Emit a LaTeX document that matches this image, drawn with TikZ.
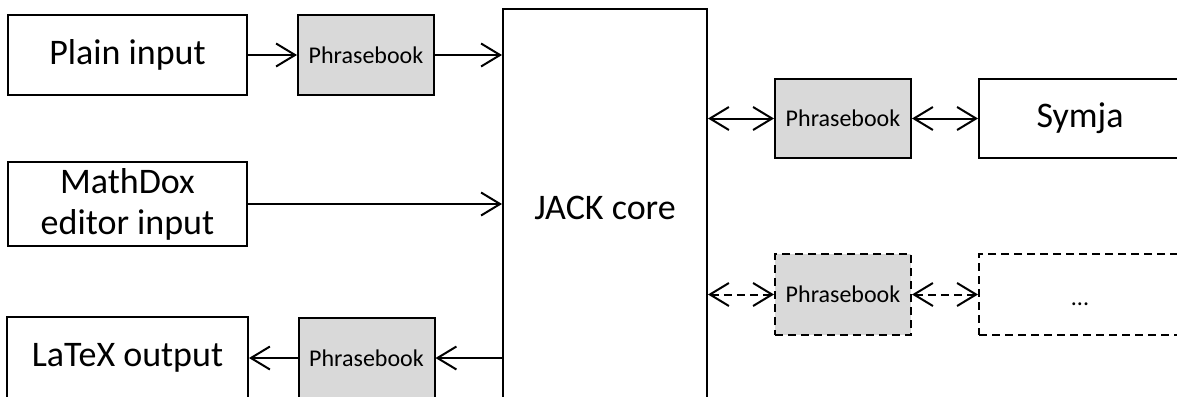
\documentclass[tikz,border=0pt]{standalone}
\usepackage{fontspec}
\setmainfont{Carlito}
\usetikzlibrary{arrows.meta}
\tikzset{
  box/.style={draw, line width=2pt, inner sep=0pt, align=center, font=\fontsize{36}{42}\selectfont},
  pbook/.style={draw, line width=2pt, fill=black!15, inner sep=0pt, minimum width=136pt, minimum height=80pt, font=\fontsize{24}{28}\selectfont},
  dashedbox/.style={dash pattern=on 8pt off 5pt},
  conn/.style={line width=2pt, -{Straight Barb[length=19pt,width=23pt,line width=2pt]}},
  biconn/.style={line width=2pt, {Straight Barb[length=19pt,width=23pt,line width=2pt]}-{Straight Barb[length=19pt,width=23pt,line width=2pt]}},
}
\begin{document}
\begin{tikzpicture}[x=1pt,y=-1pt]
\clip (0,0) rectangle (1177,396);
\fill[white] (0,0) rectangle (1177,396);
\node[box, minimum width=239pt, minimum height=80pt] (plain) at (127.5,55) {Plain input};
\node[pbook] (pb1) at (366,55) {Phrasebook};
\node[box, minimum width=204pt, minimum height=396pt] (jack) at (605,207.5) {JACK core};
\node[box, minimum width=239pt, minimum height=84pt, font=\fontsize{36}{41}\selectfont] (mathdox) at (127.5,204) {MathDox\\editor input};
\node[box, minimum width=241pt, minimum height=82pt] (latex) at (127.5,358) {LaTeX output};
\node[pbook] (pb3) at (366.5,358) {Phrasebook};
\node[pbook, minimum height=79pt] (pb2) at (843,118.5) {Phrasebook};
\node[box, minimum width=202pt, minimum height=79pt] (symja) at (1080,118.5) {Symja};
\node[pbook, dashedbox, minimum height=81pt] (pb4) at (843,294.5) {Phrasebook};
\node[box, dashedbox, minimum width=202pt, minimum height=81pt, font=\fontsize{24}{28}\selectfont, text height=21pt, text depth=0pt] (dots) at (1080,294.5) {...};

\draw[conn] (plain.east) -- (pb1.west);
\draw[conn] (pb1.east) -- (pb1.east -| jack.west);
\draw[conn] (mathdox.east) -- (mathdox.east -| jack.west);
\draw[conn] (pb3.east -| jack.west) -- (pb3.east);
\draw[conn] (pb3.west) -- (latex.east);
\draw[biconn] (pb2.west -| jack.east) -- (pb2.west);
\draw[biconn] (pb2.east) -- (symja.west);
\draw[biconn, dashedbox] (pb4.west -| jack.east) -- (pb4.west);
\draw[biconn, dashedbox] (pb4.east) -- (dots.west);
\end{tikzpicture}
\end{document}
